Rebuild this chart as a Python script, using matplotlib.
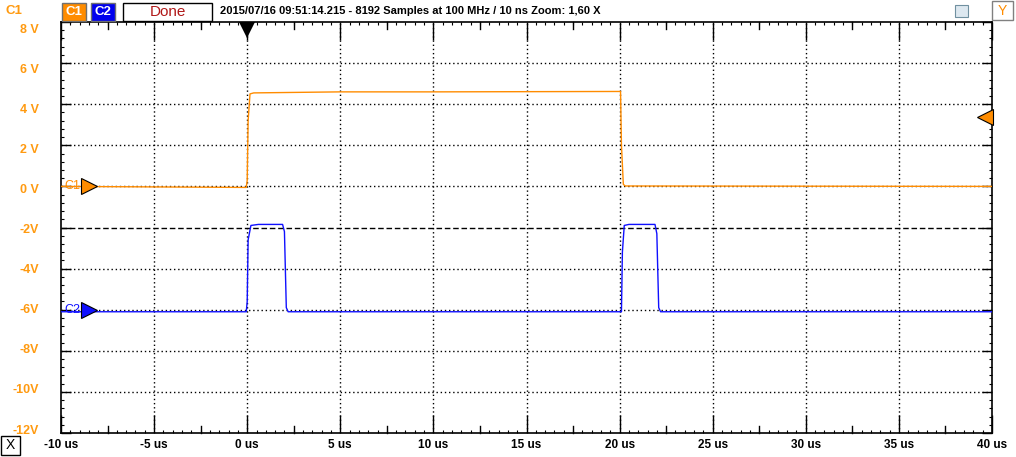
import numpy as np
import matplotlib.pyplot as plt
from matplotlib.patches import Rectangle
import matplotlib.transforms as mtransforms

# data kanal (waktu dalam us, tegangan dalam V)
t_c1 = [-10, -0.05, 0.0, 0.05, 0.15, 0.35, 5.0, 10.0, 20.05, 20.1, 20.2, 20.3, 40]
v_c1 = [0.0, -0.05, 0.3, 3.2, 4.5, 4.55, 4.6, 4.6, 4.62, 2.0, 0.1, 0.02, 0.0]

t_c2 = [-10, -0.05, 0.0, 0.05, 0.2, 0.6, 1.9, 2.0, 2.1, 2.2, 20.1, 20.15, 20.25, 20.5, 21.9, 22.0, 22.1, 22.2, 40]
v_c2 = [-6.1, -6.1, -5.6, -2.6, -1.9, -1.85, -1.85, -2.2, -5.9, -6.1, -6.1, -3.2, -1.9, -1.85, -1.85, -2.3, -5.9, -6.1, -6.1]

x_ticks = [-10, -5, 0, 5, 10, 15, 20, 25, 30, 35, 40]
y_ticks = [8, 6, 4, 2, 0, -2, -4, -6, -8, -10, -12]
y_labels = ["8 V", "6 V", "4 V", "2 V", "0 V", "-2V", "-4V", "-6V", "-8V", "-10V", "-12V"]
trig_level = 3.4
header = "2015/07/16 09:51:14.215 - 8192 Samples at 100 MHz / 10 ns Zoom: 1,60 X"

ORANYE = "#ff8c00"
BIRU = "#1010ff"
W, H = 1016, 457

fig = plt.figure(figsize=(W / 100, H / 100), dpi=100)
ax = fig.add_axes([61 / W, 1 - 433 / H, (992 - 61) / W, (433 - 22) / H])
ax.set_xlim(-10, 40)
ax.set_ylim(-12, 8)

# grid titik-titik
for x in x_ticks[1:-1]:
    ax.axvline(x, color="black", lw=1, ls=(0, (1, 2)), zorder=1)
for y in y_ticks[1:-1]:
    if y == -2:
        ax.axhline(y, color="black", lw=1, ls=(0, (4, 2)), zorder=1)
    else:
        ax.axhline(y, color="black", lw=1, ls=(0, (1, 2)), zorder=1)

ax.plot(t_c1, v_c1, color=ORANYE, lw=1.0, zorder=3)
ax.plot(t_c2, v_c2, color=BIRU, lw=1.0, zorder=3)

ax.set_xticks(x_ticks)
ax.set_xticklabels([f"{x} us" for x in x_ticks], fontweight="bold", fontsize=8.5,
                   family="Liberation Sans")
ax.set_yticks(y_ticks)
ax.set_yticklabels(y_labels, fontweight="bold", fontsize=9, color="#ff9a10",
                   family="Liberation Sans")
ax.set_xticks(np.arange(-10, 40.01, 0.5), minor=True)
ax.set_yticks(np.arange(-12, 8.01, 0.4), minor=True)
ax.tick_params(axis="x", which="major", direction="in", length=13, width=1,
               top=True, pad=4)
ax.tick_params(axis="y", which="major", direction="in", length=7, width=1,
               right=True, pad=16)
ax.tick_params(which="minor", direction="in", length=2.5, width=0.8,
               top=True, right=True)
for sp in ax.spines.values():
    sp.set_linewidth(1.2)

# label sumbu y sedikit dirapatkan seperti aslinya
for i, lab in enumerate(ax.get_yticklabels()):
    geser = (6 - i) / 100
    lab.set_transform(lab.get_transform() +
                      mtransforms.ScaledTranslation(0, -geser, fig.dpi_scale_trans))

# tick sedang tiap 2.5 us
bt = mtransforms.blended_transform_factory(ax.transData, ax.transAxes)
for x in np.arange(-7.5, 40, 5):
    ax.plot([x, x], [0, 0.018], color="black", lw=1, transform=bt, clip_on=False)
    ax.plot([x, x], [1, 0.982], color="black", lw=1, transform=bt, clip_on=False)

# penanda trigger & kanal
turun = bt + mtransforms.ScaledTranslation(0, -0.08, fig.dpi_scale_trans)
ax.plot([0], [1.0], marker="v", ms=11, color="black", transform=turun,
        clip_on=False, zorder=5, markeredgewidth=0)
ax.plot([-8.5], [0], marker=">", ms=11, color=ORANYE, mec="black", mew=0.8,
        clip_on=False, zorder=5)
ax.plot([-8.5], [-6], marker=">", ms=11, color=BIRU, mec="black", mew=0.8,
        clip_on=False, zorder=5)
ax.plot([39.6], [trig_level], marker="<", ms=11, color=ORANYE, mec="black",
        mew=0.8, clip_on=False, zorder=5)
ax.text(-9.8, 0, "C1", color=ORANYE, fontsize=9, va="center", ha="left",
        family="Liberation Sans", zorder=4)
ax.text(-9.8, -6, "C2", color=BIRU, fontsize=9, va="center", ha="left",
        family="Liberation Sans", zorder=4)


def px(x, y):
    return x / W, 1 - y / H


# header
fig.text(*px(14, 11), "C1", color="#ff9a10", fontsize=9.5, fontweight="bold",
         va="center", ha="center", family="Liberation Sans")
fig.add_artist(Rectangle(px(62, 21), 24 / W, 18 / H, transform=fig.transFigure,
                         facecolor=ORANYE, edgecolor="#707070", lw=1))
fig.text(*px(74, 12), "C1", color="white", fontsize=9.5, fontweight="bold",
         va="center", ha="center", family="Liberation Sans")
fig.add_artist(Rectangle(px(91, 21), 24 / W, 18 / H, transform=fig.transFigure,
                         facecolor="#0000ee", edgecolor="#707070", lw=1))
fig.text(*px(103, 12), "C2", color="white", fontsize=9.5, fontweight="bold",
         va="center", ha="center", family="Liberation Sans")
fig.add_artist(Rectangle(px(123, 21), 89 / W, 18 / H, transform=fig.transFigure,
                         facecolor="white", edgecolor="black", lw=1))
fig.text(*px(168, 12), "Done", color="#b01818", fontsize=11, va="center",
         ha="center", family="Liberation Sans")
fig.text(*px(220, 11), header, color="black", fontsize=8, fontweight="bold",
         va="center", ha="left", family="Liberation Sans")
fig.add_artist(Rectangle(px(992, 20), 21 / W, 19 / H, transform=fig.transFigure,
                         facecolor="white", edgecolor="#808080", lw=1))
fig.text(*px(1002.5, 11), "Y", color=ORANYE, fontsize=10, va="center",
         ha="center", family="Liberation Sans")
fig.add_artist(Rectangle(px(955, 17), 13 / W, 12 / H, transform=fig.transFigure,
                         facecolor="#dde8f0", edgecolor="#7090a0", lw=0.8))

# tombol X kiri bawah
fig.add_artist(Rectangle(px(1, 455), 19 / W, 19 / H, transform=fig.transFigure,
                         facecolor="white", edgecolor="black", lw=1))
fig.text(*px(10.5, 445), "X", color="black", fontsize=10, va="center",
         ha="center", family="Liberation Sans")

fig.savefig("out.png", dpi=100)
